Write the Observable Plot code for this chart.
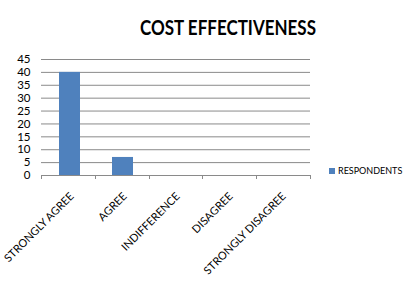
<!DOCTYPE html>
<html><head><meta charset="utf-8">
<script src="https://cdn.jsdelivr.net/npm/d3@7"></script>
<script src="https://cdn.jsdelivr.net/npm/@observablehq/plot@0.6"></script>
<style>
body{margin:0;background:#fff;width:411px;height:287px;position:relative;overflow:hidden;font-family:Lato,"Open Sans",sans-serif;}
#title{position:absolute;left:78px;width:300px;top:14px;text-align:center;font-family:Lato,sans-serif;font-weight:bold;font-size:20px;color:#000;line-height:26px;transform:scaleX(0.85);transform-origin:150px 0;}
#chart{position:absolute;left:0;top:45px;}
#legend{position:absolute;left:329px;top:165px;font-size:9px;color:#000;line-height:11px;white-space:nowrap;}
#legend .sw{display:inline-block;width:6px;height:6px;background:#4F81BD;margin-right:3px;vertical-align:0px;}
</style>
</head><body>
<div id="title"></div>
<div id="chart"></div>
<div id="legend"><span class="sw"></span><span id="legtext"></span></div>
<script>
const chartTitle = "COST EFFECTIVENESS";
const seriesName = "RESPONDENTS";
const categories = ["STRONGLY AGREE", "AGREE", "INDIFFERENCE", "DISAGREE", "STRONGLY DISAGREE"];
const respondents = [40, 7, 0, 0, 0];
const yTicks = [0, 5, 10, 15, 20, 25, 30, 35, 40, 45];

document.getElementById("title").textContent = chartTitle;
document.getElementById("legtext").textContent = seriesName;

const data = categories.map((c, i) => ({category: c, value: respondents[i]}));
const barColor = "#4F81BD";
const gridColor = "#8a8a8a";

const bandTicks = (index, scales, values, dims) => {
  const g = d3.create("svg:g");
  const n = categories.length;
  const x0 = dims.marginLeft, x1 = dims.width - dims.marginRight;
  const step = (x1 - x0) / n;
  const y0 = scales.y(0);
  for (let i = 0; i <= n; i++) {
    const x = Math.round(x0 + i * step) + 0.5;
    g.append("line").attr("x1", x).attr("x2", x).attr("y1", y0).attr("y2", y0 + 4)
      .attr("stroke", gridColor);
  }
  return g.node();
};

const chart = Plot.plot({
  width: 411,
  height: 242,
  marginTop: 14,
  marginBottom: 112,
  marginLeft: 41,
  marginRight: 101,
  style: {fontFamily: "Lato, 'Open Sans', sans-serif", background: "white", color: "#000"},
  x: {domain: categories, paddingInner: 0.6, paddingOuter: 0.3, label: null},
  y: {domain: [0, 45], label: null},
  marks: [
    Plot.gridY(yTicks, {stroke: gridColor, strokeOpacity: 1}),
    Plot.axisY(yTicks, {tickSize: 0, tickPadding: 11, fontSize: 11.5, label: null}),
    Plot.barY(data, {x: "category", y: "value", fill: barColor}),
    Plot.ruleY([0], {stroke: gridColor}),
    Plot.axisX({tickSize: 0, tickRotate: -45, tickPadding: 19, dx: 2, fontSize: 11, label: null}),
    bandTicks
  ]
});
document.getElementById("chart").appendChild(chart);
</script>
</body></html>
